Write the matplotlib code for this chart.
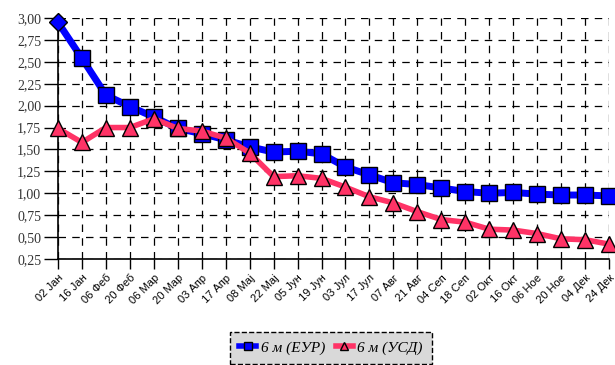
import matplotlib.pyplot as plt
from matplotlib.lines import Line2D

dates = ["02 Јан", "16 Јан", "06 Феб", "20 Феб", "06 Мар", "20 Мар", "03 Апр", "17 Апр",
         "08 Мај", "22 Мај", "05 Јун", "19 Јун", "03 Јул", "17 Јул", "07 Авг", "21 Авг",
         "04 Сеп", "18 Сеп", "02 Окт", "16 Окт", "06 Ное", "20 Ное", "04 Дек", "24 Дек"]
eur = [2.95, 2.54, 2.12, 1.99, 1.87, 1.74, 1.68, 1.61, 1.53, 1.47, 1.48, 1.45,
       1.30, 1.21, 1.12, 1.10, 1.06, 1.02, 1.00, 1.01, 0.99, 0.98, 0.98, 0.97]
usd = [1.74, 1.58, 1.75, 1.75, 1.85, 1.74, 1.71, 1.63, 1.46, 1.19, 1.20, 1.17,
       1.07, 0.96, 0.89, 0.79, 0.70, 0.67, 0.59, 0.58, 0.54, 0.48, 0.47, 0.42]
yticks = [0.25, 0.5, 0.75, 1.0, 1.25, 1.5, 1.75, 2.0, 2.25, 2.5, 2.75, 3.0]

blue = "#0000ff"
pink = "#ff3366"

fig = plt.figure(figsize=(6.15, 3.65), dpi=100)
ax = fig.add_axes([58 / 615, 1 - 259 / 365, (609 - 58) / 615, (259 - 18) / 365])

x = list(range(len(dates)))

# lines first, markers on top
ax.plot(x, eur, color=blue, lw=5, zorder=3, solid_joinstyle="round")
ax.plot(x[1:], eur[1:], ls="none", marker="s", ms=12, mfc=blue, mec="black", mew=1,
        zorder=4, clip_on=False)
ax.plot(x[0], eur[0], ls="none", marker="D", ms=9, mfc=blue, mec="black", mew=1,
        zorder=4, clip_on=False)
ax.plot(x, usd, color=pink, lw=4, zorder=5, solid_joinstyle="round")
ax.plot(x, usd, ls="none", marker="^", ms=12, mfc=pink, mec="black", mew=1,
        zorder=6, clip_on=False)

ax.set_xlim(0, len(dates) - 1)
ax.set_ylim(0.25, 3.0)
ax.set_yticks(yticks)
ax.set_yticklabels([f"{v:.2f}".replace(".", ",") for v in yticks],
                   family="Liberation Serif", fontsize=10, color="#333333")
ax.set_xticks(x)
ax.set_xticklabels(dates, rotation=45, ha="right", rotation_mode="anchor",
                   family="Liberation Sans", fontsize=8)

ax.grid(True, color="black", ls=(0, (6, 5)), lw=0.9)
ax.set_axisbelow(True)
for side in ["top", "right"]:
    ax.spines[side].set_visible(False)
ax.spines["left"].set_linewidth(1.2)
ax.spines["bottom"].set_linewidth(1.2)
ax.tick_params(axis="y", length=10, width=1, pad=2)
ax.tick_params(axis="x", length=7, width=1, pad=3)

handles = [
    Line2D([], [], color=blue, lw=4, marker="s", ms=6, mfc=blue, mec="black"),
    Line2D([], [], color=pink, lw=4, marker="^", ms=6, mfc=pink, mec="black"),
]
leg = fig.legend(handles, ["6 м (ЕУР)", "6 м (УСД)"], loc="center",
                 bbox_to_anchor=(331 / 615, 1 - 348 / 365), ncol=2, frameon=True,
                 fancybox=False, handlelength=1.1, handletextpad=0.3,
                 columnspacing=0.7, borderpad=0.6,
                 prop={"family": "Liberation Serif", "style": "italic", "size": 11})
frame = leg.get_frame()
frame.set_facecolor("#d9d9d9")
frame.set_edgecolor("black")
frame.set_linestyle("--")
frame.set_alpha(1)

fig.savefig("out.png", dpi=100)
